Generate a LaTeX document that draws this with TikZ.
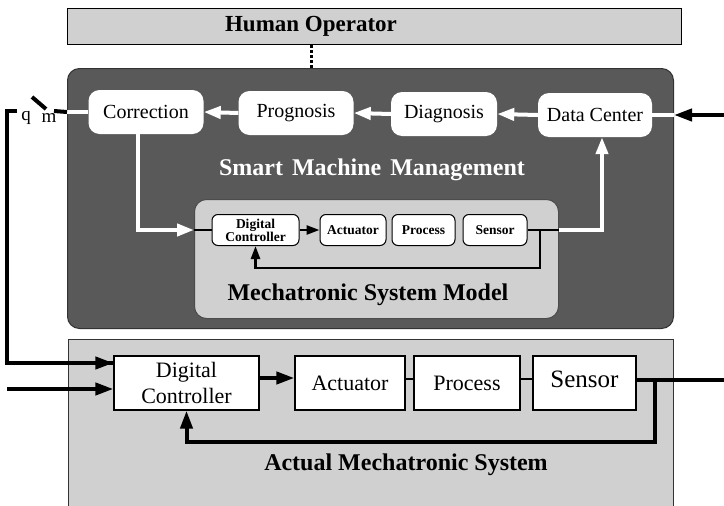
\documentclass[tikz,border=0pt]{standalone}
\usepackage{fontspec}
\setmainfont{Liberation Serif}
\usetikzlibrary{arrows.meta}
\definecolor{darkbg}{HTML}{595959}
\definecolor{lightbg}{HTML}{D0D0D0}
\newcommand{\fs}[1]{\fontsize{#1}{#1}\selectfont}
\tikzset{
  upbox/.style={fill=white, rounded corners=11, minimum height=44, inner sep=0, font=\fs{20}},
  modbox/.style={fill=white, draw=black, line width=1, rounded corners=6, minimum height=31, inner sep=0, font=\bfseries\fontsize{13.5}{13}\selectfont, align=center},
  lowbox/.style={fill=white, draw=black, line width=1.2, minimum height=54, inner sep=0, font=\fontsize{22}{26}\selectfont, align=center},
  title/.style={font=\bfseries\fs{24}},
  wline/.style={draw=white, line width=4},
  warrow/.style={wline, -{Triangle[length=17,width=12]}},
  bline/.style={draw=black, line width=4},
  barrow/.style={bline, -{Triangle[length=18,width=12]}},
  mline/.style={draw=black, line width=2.5},
  marrow/.style={mline, -{Triangle[length=13,width=9]}},
  thinl/.style={draw=black, line width=2.5},
}
\begin{document}
\begin{tikzpicture}[x=1pt,y=-1pt]
\useasboundingbox (0,0) rectangle (724,506);
% Human operator
\node[draw=black, line width=1.2, fill=lightbg, anchor=north west, minimum width=614, minimum height=36, inner sep=0] (hobox) at (67,8) {};
\node[font=\bfseries\fs{23}] (hotext) at (311,26) {Human Operator};
% Smart machine management
\node[fill=darkbg, draw=black!80, line width=1, rounded corners=12, anchor=north west, minimum width=606, minimum height=260, inner sep=0] (smm) at (67,68) {};
\draw[line width=3, dash pattern=on 2.5 off 2.5] (hobox.south -| hotext) -- (smm.north -| hotext);
\node[upbox, minimum width=115] (cor) at (146,112) {Correction};
\node[upbox, minimum width=115] (pro) at (296,113) {Prognosis};
\node[upbox, minimum width=106] (dia) at (444,114) {Diagnosis};
\node[upbox, minimum width=114] (dat) at (595,115) {Data Center};
\node[title, text=white] (smmt) at (372,170) {Smart\hspace{3pt} Machine\hspace{3pt} Management};
\draw[warrow] (dat.west) -- (dia.east);
\draw[warrow] (dia.west) -- (pro.east);
\draw[warrow] (pro.west) -- (cor.east);
% right input
\coordinate (rin) at (724,115);
\draw[wline] (dat.east) -- (smm.east |- dat);
\draw[barrow] (rin) -- (smm.east |- dat);
% mechatronic system model
\node[fill=lightbg, draw=black!70, line width=1, rounded corners=12, anchor=north west, minimum width=364, minimum height=119, inner sep=0] (msm) at (194,199) {};
\node[modbox, minimum width=87] (mdc) at (255.5,230) {Digital\\Controller};
\node[modbox, minimum width=66] (mac) at (353,230) {Actuator};
\node[modbox, minimum width=63] (mpr) at (423.5,230) {Process};
\node[modbox, minimum width=64] (mse) at (495,230) {Sensor};
\node[title] (msmt) at (368,295) {Mechatronic System Model};
\draw[marrow] (mdc.east) -- (mac.west);
\draw[mline] (mse.east) -- (msm.east |- mse);
\draw[warrow] (msm.east |- mse) -| ([xshift=7]dat.south);
\coordinate (mj) at (540,230);
\coordinate (mb) at (540,268);
\draw[marrow] (mj) -- (mb) -| (mdc.south);
\draw[warrow] ([xshift=-8]cor.south) |- (msm.west |- mdc);
\draw[mline] (msm.west |- mdc) -- (mdc.west);
% switch
\coordinate (sw1) at (54,111);
\coordinate (swa) at (32,97);
\coordinate (swb) at (46,109);
\coordinate (sw2) at (17,111);
\coordinate (corner) at (7,111);
\draw[wline] (cor.west) -- (smm.west |- cor);
\draw[bline] (smm.west |- cor) -- (sw1);
\draw[bline] (swa) -- (swb);
\node[font=\fs{19}] (qlab) at (26,118) {q};
\node[font=\fs{19}] (mlab) at (49,118) {m};
% actual mechatronic system
\node[fill=lightbg, draw=black!80, line width=1.2, anchor=north west, minimum width=605, minimum height=190, inner sep=0] (ams) at (68,339) {};
\node[lowbox, minimum width=145] (ldc) at (186.5,383) {Digital\\Controller};
\node[lowbox, minimum width=110] (lac) at (350,383) {Actuator};
\node[lowbox, minimum width=106] (lpr) at (467,383) {Process};
\node[lowbox, minimum width=103, font=\fs{25}] (lse) at (584.5,383) {\raisebox{7pt}{Sensor}};
\node[title] (amst) at (406,465) {Actual Mechatronic System};
\draw[bline] (sw2) -- (corner) |- ([yshift=20]ldc.west) coordinate (in1end);
\draw[barrow] ([xshift=-40,yshift=20]ldc.west) -- ([yshift=20]ldc.west);
\coordinate (in2) at (7,389);
\draw[barrow] (in2) -- (ldc.west |- in2);
\draw[barrow] ([yshift=5]ldc.east) -- ([yshift=5]lac.west);
\draw[thinl] ([yshift=4]lac.east) -- ([yshift=4]lpr.west);
\draw[thinl] ([yshift=4]lpr.east) -- ([yshift=4]lse.west);
\coordinate (rout) at (724,380);
\draw[bline] ([yshift=3]lse.east) -- (rout);
\coordinate (lj) at (655,380);
\coordinate (lb) at (655,442);
\draw[barrow] (lj) -- (lb) -| (ldc.south);
\end{tikzpicture}
\end{document}
